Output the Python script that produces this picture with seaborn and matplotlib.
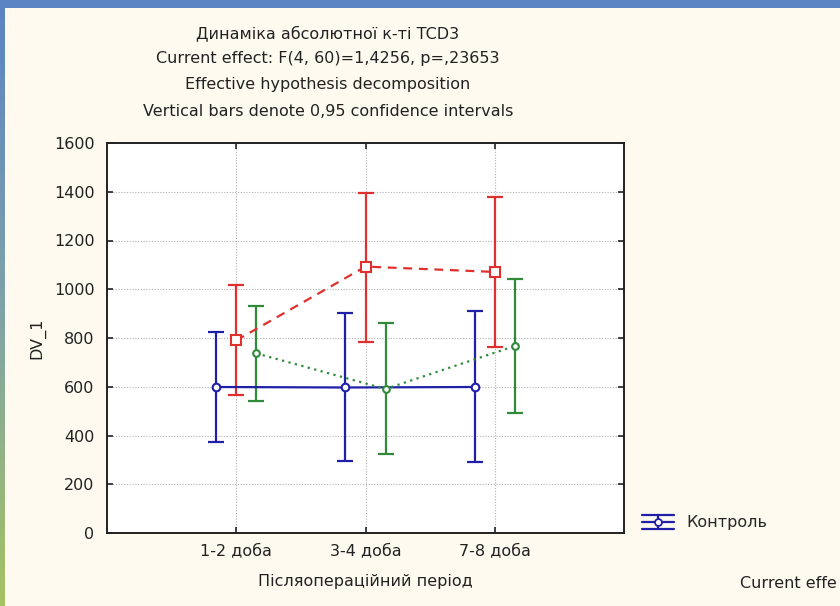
import numpy as np
import pandas as pd
import matplotlib
matplotlib.use("Agg")
import matplotlib.pyplot as plt
import seaborn as sns
from matplotlib.patches import Rectangle
from matplotlib.lines import Line2D
from matplotlib.legend_handler import HandlerBase
from matplotlib.colors import LinearSegmentedColormap

# ---------------- data ----------------
categories = ["1-2 доба", "3-4 доба", "7-8 доба"]
groups = ["Контроль", "Група 1", "Група 2"]

control_mean = [599, 597, 599]
control_low = [373, 297, 290]
control_high = [826, 904, 911]

group1_mean = [790, 1093, 1071]
group1_low = [565, 784, 762]
group1_high = [1017, 1395, 1378]

group2_mean = [737, 591, 767]
group2_low = [543, 325, 494]
group2_high = [930, 860, 1043]

yticks = [0, 200, 400, 600, 800, 1000, 1200, 1400, 1600]

title_lines = [
    "Динаміка абсолютної к-ті TCD3",
    "Current effect: F(4, 60)=1,4256, p=,23653",
    "Effective hypothesis decomposition",
    "Vertical bars denote 0,95 confidence intervals",
]
xlabel = "Післяопераційний період"
ylabel = "DV_1"
side_text = "Current effe"

# ---------------- style ----------------
BG = "#FFFAEF"
TXT = "#222222"
FS = 11.5
colors = {"Контроль": "#1F1FA8", "Група 1": "#E0302E", "Група 2": "#2F8A3A"}
offsets = {"Контроль": -0.155, "Група 1": 0.0, "Група 2": 0.155}
markers = {"Контроль": "o", "Група 1": "s", "Група 2": "o"}
msizes = {"Контроль": 5.5, "Група 1": 7.0, "Група 2": 4.8}
dashes = {"Контроль": "", "Група 1": (4, 3), "Група 2": (1, 2)}

means = [control_mean, group1_mean, group2_mean]
lows = [control_low, group1_low, group2_low]
highs = [control_high, group1_high, group2_high]

rows = []
for g, m, lo, hi in zip(groups, means, lows, highs):
    for i, c in enumerate(categories):
        rows.append({"group": g, "cat": c, "pos": i + 1 + offsets[g],
                     "mean": m[i], "low": lo[i], "high": hi[i]})
df = pd.DataFrame(rows)

sns.set_style("white")
plt.rcParams['font.family'] = ['DejaVu Sans']
plt.rcParams['font.size'] = FS

W, H = 840, 606
fig = plt.figure(figsize=(8.4, 6.06), dpi=100, facecolor=BG)

# frame decorations (blue top bar and gradient left bar)
fig.patches.append(Rectangle((0, 1 - 8 / H), 1, 8 / H, transform=fig.transFigure,
                             facecolor="#5B84C4", edgecolor="none", zorder=0))
gax = fig.add_axes([0, 0, 5 / W, 1 - 8 / H])
grad = np.linspace(0, 1, 256).reshape(-1, 1)
cmap = LinearSegmentedColormap.from_list("edge", ["#5B84C4", "#7FA3A8", "#A6C262"])
gax.imshow(grad, aspect="auto", cmap=cmap, extent=[0, 1, 0, 1])
gax.set_axis_off()

ax = fig.add_axes([107 / W, 1 - 533 / H, (624 - 107) / W, (533 - 143) / H])
ax.set_facecolor("white")

# error bars
for g in groups:
    sub = df[df["group"] == g]
    ax.errorbar(sub["pos"], sub["mean"],
                yerr=[sub["mean"] - sub["low"], sub["high"] - sub["mean"]],
                fmt="none", ecolor=colors[g], elinewidth=1.6,
                capsize=5.5, capthick=1.6, zorder=3)

n_before = len(ax.lines)
# mean lines with markers via seaborn
sns.lineplot(data=df, x="pos", y="mean", hue="group", style="group",
             palette=colors, dashes=dashes, markers=markers,
             estimator=None, sort=False, legend=False, ax=ax,
             linewidth=1.6, zorder=4)
for line in ax.lines[n_before:]:
    col = line.get_color()
    line.set_markerfacecolor("white")
    line.set_markeredgecolor(col)
    line.set_markeredgewidth(1.5)
    for g in groups:
        if matplotlib.colors.same_color(col, colors[g]):
            line.set_markersize(msizes[g])

ax.set_xlim(0, 4)
ax.set_ylim(0, 1600)
ax.set_xticks([1, 2, 3])
ax.set_xticklabels(categories)
ax.set_yticks(yticks)
ax.grid(True, color="#B0B0B0", linestyle=(0, (1, 1.5)), linewidth=0.8)
ax.set_axisbelow(True)
ax.tick_params(direction="in", length=4, width=1.2, color="#222222",
               top=True, right=True, bottom=True, left=True,
               labelsize=FS, labelcolor=TXT)
ax.tick_params(axis="x", pad=7)
ax.tick_params(axis="y", pad=9)
for s in ax.spines.values():
    s.set_color("#222222")
    s.set_linewidth(1.4)
ax.set_xlabel(xlabel, fontsize=FS, labelpad=12, color=TXT)
ax.set_ylabel(ylabel, fontsize=FS, labelpad=6, color=TXT)

# titles
ys = [33, 58, 84, 112]
for t, y in zip(title_lines, ys):
    fig.text(328 / W, 1 - y / H, t, ha="center", va="center", fontsize=FS, color=TXT)


# legend symbol like the original (caps across full width)
class HandlerCI(HandlerBase):
    def create_artists(self, legend, orig_handle, xdescent, ydescent,
                       width, height, fontsize, trans):
        c = orig_handle.get_color()
        x0, x1 = -xdescent, -xdescent + width
        xm = (x0 + x1) / 2
        ym = -ydescent + height / 2
        d = height * 0.62
        arts = [
            Line2D([x0, x1], [ym + d, ym + d], color=c, lw=1.6),
            Line2D([x0, x1], [ym - d, ym - d], color=c, lw=1.6),
            Line2D([x0, x1], [ym, ym], color=c, lw=1.6),
            Line2D([xm, xm], [ym - d, ym + d], color=c, lw=1.6),
            Line2D([xm], [ym], color=c, marker="o", markersize=5,
                   markerfacecolor="white", markeredgecolor=c, markeredgewidth=1.3),
        ]
        for a in arts:
            a.set_transform(trans)
        return arts


proxy = Line2D([], [], color=colors["Контроль"])
fig.legend(handles=[proxy], labels=["Контроль"], handler_map={Line2D: HandlerCI()},
           loc="center left", bbox_to_anchor=(628 / W, 1 - 523 / H),
           frameon=False, fontsize=FS, handlelength=2.0, handletextpad=0.75)

# neighbouring chart text, cut by the screenshot edge
fig.text(837 / W, 1 - 583 / H, side_text,
         ha="right", va="center", fontsize=FS, color=TXT)

fig.savefig("out.png", dpi=100, facecolor=BG)
